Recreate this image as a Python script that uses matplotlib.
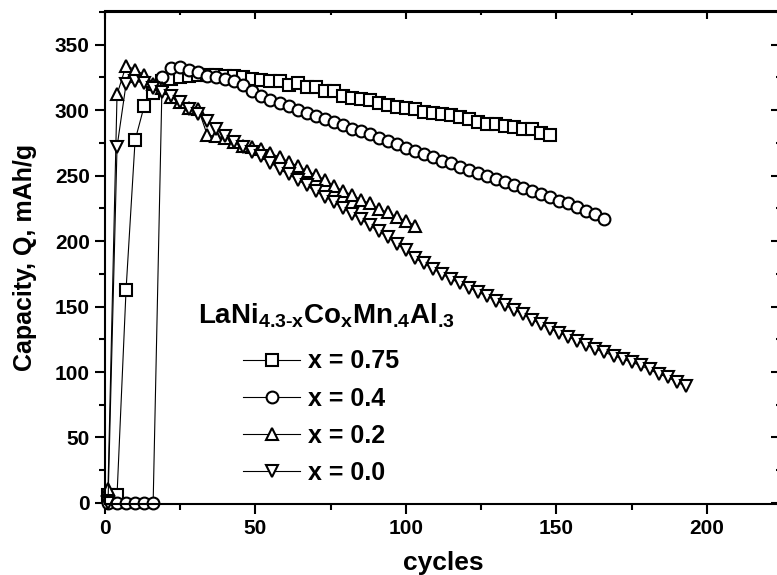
import matplotlib
matplotlib.use("Agg")
import matplotlib.pyplot as plt
from matplotlib.ticker import MultipleLocator, NullFormatter

# 数据: 循环次数与放电容量 (mAh/g)
cyc_075 = [1, 4, 7, 10, 13, 16, 19, 22, 25, 28, 31, 34, 37, 40, 43, 46, 49, 52, 55, 58,
           61, 64, 67, 70, 73, 76, 79, 82, 85, 88, 91, 94, 97, 100, 103, 106, 109, 112,
           115, 118, 121, 124, 127, 130, 133, 136, 139, 142, 145, 148]
cap_075 = [6, 6, 163, 277, 303, 313, 322.5, 323.5, 325, 326, 327, 327, 327, 326.5, 326, 325,
           324.0, 323.4, 322.2, 322.2, 319.6, 320.9, 317.8, 317.8, 315.0, 315.0, 311.2, 309.5,
           308.7, 307.5, 305.7, 303.7, 302.7, 301.6, 300.6, 298.6, 298.1, 297.3, 296.6, 294.8,
           293.5, 291.0, 289.8, 289.3, 288.0, 287.4, 286.0, 285.4, 282.3, 281.1]

cyc_04 = [1, 4, 7, 10, 13, 16, 19, 22, 25, 28, 31, 34, 37, 40, 43, 46, 49, 52, 55, 58,
          61, 64, 67, 70, 73, 76, 79, 82, 85, 88, 91, 94, 97, 100, 103, 106, 109, 112,
          115, 118, 121, 124, 127, 130, 133, 136, 139, 142, 145, 148, 151, 154, 157, 160,
          163, 166]
cap_04 = [0, 0, 0, 0, 0, 0, 325, 332.5, 333, 331, 329, 326.5, 325, 323.5, 322, 319.5,
          315, 311, 308, 305.5, 303, 300, 298, 295.5, 293.5, 291, 288.5, 286, 284, 281.5,
          279, 276.5, 274, 271.5, 269, 266.5, 264, 261.5, 259.5, 257, 254.5, 252, 249.5,
          247.5, 245, 243, 240.5, 238, 236, 233.5, 231, 229, 226, 223, 220.5, 217]

cyc_02 = [1, 4, 7, 10, 13, 16, 19, 22, 25, 28, 31, 34, 37, 40, 43, 46, 49, 52, 55, 58,
          61, 64, 67, 70, 73, 76, 79, 82, 85, 88, 91, 94, 97, 100, 103]
cap_02 = [11, 312, 334, 331, 327, 320, 317, 310, 306, 302, 301, 281, 280, 279, 275.5,
          273, 272, 270.5, 267, 264.3, 260.5, 257.5, 253.7, 250.6, 246.8, 242.3, 238.4,
          235.4, 231.6, 228.8, 224.5, 222, 218.2, 215.6, 211.8]

cyc_00 = [1, 4, 7, 10, 13, 16, 19, 22, 25, 28, 31, 34, 37, 40, 43, 46, 49, 52, 55, 58,
          61, 64, 67, 70, 73, 76, 79, 82, 85, 88, 91, 94, 97, 100, 103, 106, 109, 112,
          115, 118, 121, 124, 127, 130, 133, 136, 139, 142, 145, 148, 151, 154, 157, 160,
          163, 166, 169, 172, 175, 178, 181, 184, 187, 190, 193]
cap_00 = [0, 272, 320, 322, 321, 317, 314, 310.5, 306, 301, 297, 291.5, 286, 280, 276,
          272, 268, 265, 260, 255, 251, 247, 242.5, 238, 234, 230, 225.5, 221, 217, 212,
          207.5, 203, 198, 193, 187, 183, 179, 175, 171, 168, 164.5, 161, 158, 154.5, 151,
          147.5, 144, 140, 136.5, 133, 130, 127, 123.5, 120.5, 117.5, 115, 112.5, 110,
          107.5, 105, 102, 98.5, 96, 92.5, 89]

labels = ["x = 0.75", "x = 0.4", "x = 0.2", "x = 0.0"]
markers = ["s", "o", "^", "v"]
legend_title = r"LaNi$_{\text{4.3-x}}$Co$_{\text{x}}$Mn$_{\text{.4}}$Al$_{\text{.3}}$"

plt.rcParams["font.family"] = ["Liberation Sans", "DejaVu Sans"]
plt.rcParams["font.weight"] = "bold"
plt.rcParams["mathtext.fontset"] = "custom"
plt.rcParams["mathtext.rm"] = "Liberation Sans:bold"
plt.rcParams["mathtext.it"] = "Liberation Sans:bold"
plt.rcParams["mathtext.bf"] = "Liberation Sans:bold"

fig = plt.figure(figsize=(7.77, 5.75), dpi=100)
# 右侧边框落在图片外面 (原图被裁掉)
ax = fig.add_axes([105 / 777, 71 / 575, 677 / 777, 492.5 / 575])

series = [(cyc_075, cap_075), (cyc_04, cap_04), (cyc_02, cap_02), (cyc_00, cap_00)]
for (xs, ys), mk, lab in zip(series, markers, labels):
    ax.plot(xs, ys, color="black", lw=0.8, marker=mk, markersize=8.5,
            markerfacecolor="white", markeredgecolor="black", markeredgewidth=1.5,
            label=lab, clip_on=False)

ax.set_xlim(0, 225)
ax.set_ylim(-0.8, 375.4)
ax.xaxis.set_major_locator(MultipleLocator(50))
ax.xaxis.set_minor_locator(MultipleLocator(25))
ax.yaxis.set_major_locator(MultipleLocator(50))
ax.yaxis.set_minor_locator(MultipleLocator(25))
ax.tick_params(which="major", direction="out", length=7, width=1.5, labelsize=15, pad=4)
ax.tick_params(which="minor", direction="out", length=4, width=1.5)
for sp in ax.spines.values():
    sp.set_linewidth(1.5)

# 上方和右侧的内向刻度
secx = ax.secondary_xaxis("top")
secx.xaxis.set_major_locator(MultipleLocator(50))
secx.xaxis.set_minor_locator(MultipleLocator(25))
secx.xaxis.set_major_formatter(NullFormatter())
secx.tick_params(which="major", direction="in", length=6, width=1.5)
secx.tick_params(which="minor", direction="in", length=3, width=1.5)
secx.spines["top"].set_linewidth(1.5)

secy = ax.secondary_yaxis("right")
secy.yaxis.set_major_locator(MultipleLocator(50))
secy.yaxis.set_minor_locator(MultipleLocator(25))
secy.yaxis.set_major_formatter(NullFormatter())
secy.tick_params(which="major", direction="in", length=8, width=1.5)
secy.tick_params(which="minor", direction="in", length=4, width=1.5)
secy.spines["right"].set_linewidth(1.5)

ax.set_xlabel("cycles", fontsize=19, fontweight="bold", labelpad=9)
ax.set_ylabel("Capacity, Q, mAh/g", fontsize=18, fontweight="bold", labelpad=13)

ax.text(0.1375, 0.3675, legend_title, transform=ax.transAxes, fontsize=20,
        fontweight="bold", ha="left", va="baseline")
ax.legend(loc="upper left", bbox_to_anchor=(0.204, 0.314), frameon=False,
          fontsize=18, handlelength=2.28, handletextpad=0.32, labelspacing=0.53,
          borderpad=0, borderaxespad=0)

fig.savefig("out.png", dpi=100)
